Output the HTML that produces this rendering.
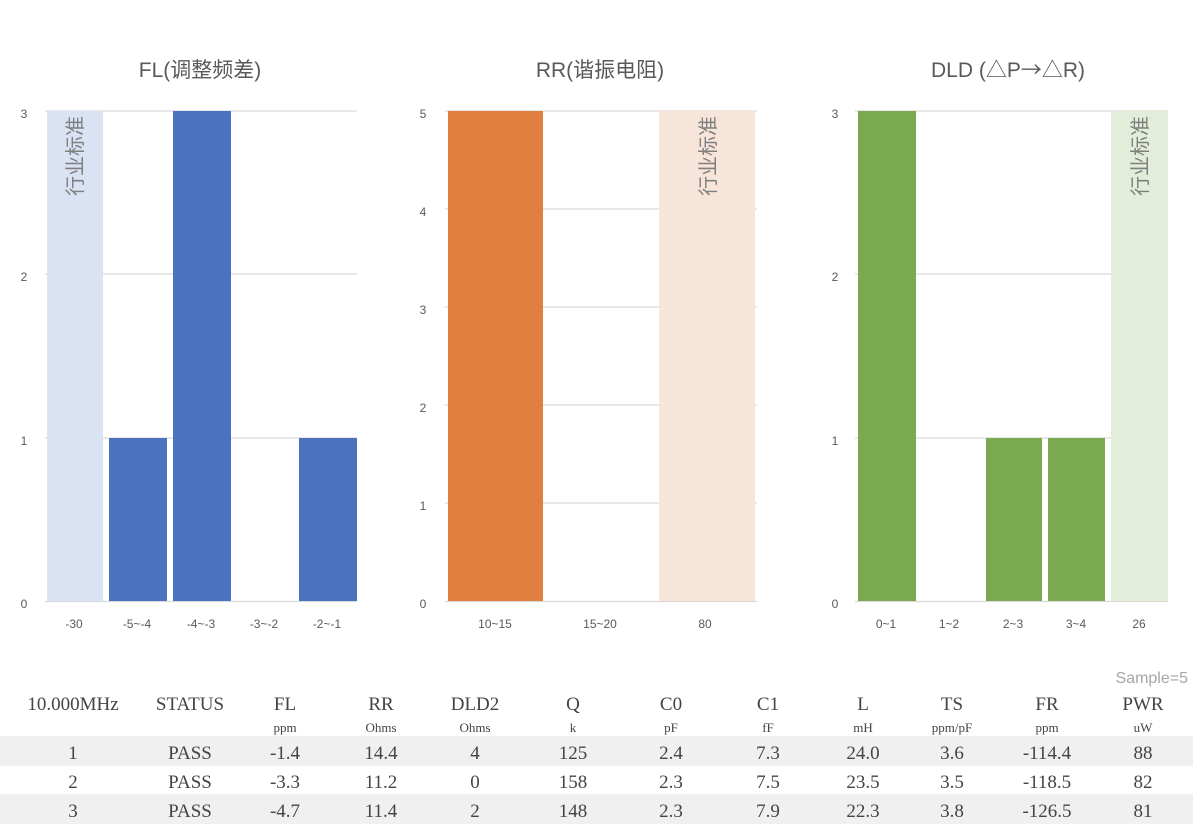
<!DOCTYPE html>
<html><head><meta charset="utf-8"><style>
body{margin:0;background:#fff;width:1200px;height:828px;overflow:hidden}
svg text{font-family:"Liberation Sans","Noto Sans CJK SC",sans-serif}
.t text{font-family:"Liberation Serif","Noto Serif CJK SC",serif;fill:#444}
</style></head><body>
<svg width="1200" height="828" xmlns="http://www.w3.org/2000/svg">
<g font-size="21" fill="#595959" text-anchor="middle">
<text x="200" y="77">FL(调整频差)</text>
<text x="600" y="77">RR(谐振电阻)</text>
<text x="1008" y="77">DLD (△P<tspan style="font-family:'Noto Sans CJK SC',sans-serif">→</tspan>△R)</text>
</g>
<g stroke="#d9d9d9" stroke-width="1.3">
<line x1="45" x2="357" y1="111" y2="111"/><line x1="45" x2="357" y1="274" y2="274"/><line x1="45" x2="357" y1="438" y2="438"/><line x1="45" x2="357" y1="601.5" y2="601.5"/>
<line x1="445" x2="757" y1="111" y2="111"/><line x1="445" x2="757" y1="209" y2="209"/><line x1="445" x2="757" y1="307" y2="307"/><line x1="445" x2="757" y1="405" y2="405"/><line x1="445" x2="757" y1="503" y2="503"/><line x1="445" x2="757" y1="601.5" y2="601.5"/>
<line x1="855" x2="1168" y1="111" y2="111"/><line x1="855" x2="1168" y1="274" y2="274"/><line x1="855" x2="1168" y1="438" y2="438"/><line x1="855" x2="1168" y1="601.5" y2="601.5"/>
</g>
<rect x="47" y="111" width="56" height="490" fill="#dae3f3"/>
<rect x="109" y="438" width="58" height="163" fill="#4a72be"/>
<rect x="173" y="111" width="58" height="490" fill="#4a72be"/>
<rect x="299" y="438" width="58" height="163" fill="#4a72be"/>
<rect x="448" y="111" width="95" height="490" fill="#e07f3f"/>
<rect x="659" y="111" width="96" height="490" fill="#f8e5d9"/>
<rect x="858" y="111" width="58" height="490" fill="#7ba950"/>
<rect x="986" y="438" width="56" height="163" fill="#7ba950"/>
<rect x="1048" y="438" width="57" height="163" fill="#7ba950"/>
<rect x="1111" y="111" width="57" height="490" fill="#e2eed9"/>
<g font-size="20" fill="#7f7f7f">
<text transform="translate(82,196) rotate(-90)">行业标准</text>
<text transform="translate(715,196) rotate(-90)">行业标准</text>
<text transform="translate(1147,196) rotate(-90)">行业标准</text>
</g>
<g font-size="12" fill="#595959" text-anchor="middle">
<text x="24" y="118">3</text><text x="24" y="281">2</text><text x="24" y="445">1</text><text x="24" y="608">0</text>
<text x="423" y="118">5</text><text x="423" y="216">4</text><text x="423" y="314">3</text><text x="423" y="412">2</text><text x="423" y="510">1</text><text x="423" y="608">0</text>
<text x="835" y="118">3</text><text x="835" y="281">2</text><text x="835" y="445">1</text><text x="835" y="608">0</text>
<text x="74" y="628">-30</text><text x="137" y="628">-5~-4</text><text x="201" y="628">-4~-3</text><text x="264" y="628">-3~-2</text><text x="327" y="628">-2~-1</text>
<text x="495" y="628">10~15</text><text x="600" y="628">15~20</text><text x="705" y="628">80</text>
<text x="886" y="628">0~1</text><text x="949" y="628">1~2</text><text x="1013" y="628">2~3</text><text x="1076" y="628">3~4</text><text x="1139" y="628">26</text>
</g>
<text x="1188" y="683" font-size="16" fill="#a6a6a6" text-anchor="end">Sample=5</text>
<rect x="0" y="736" width="1193" height="30" fill="#f0f0f0"/>
<rect x="0" y="794" width="1193" height="30" fill="#f0f0f0"/>
<g class="t" text-anchor="middle">
<g font-size="19">
<text x="73" y="710">10.000MHz</text><text x="190" y="710">STATUS</text><text x="285" y="710">FL</text><text x="381" y="710">RR</text><text x="475" y="710">DLD2</text><text x="573" y="710">Q</text><text x="671" y="710">C0</text><text x="768" y="710">C1</text><text x="863" y="710">L</text><text x="952" y="710">TS</text><text x="1047" y="710">FR</text><text x="1143" y="710">PWR</text>
</g>
<g font-size="13">
<text x="285" y="732">ppm</text><text x="381" y="732">Ohms</text><text x="475" y="732">Ohms</text><text x="573" y="732">k</text><text x="671" y="732">pF</text><text x="768" y="732">fF</text><text x="863" y="732">mH</text><text x="952" y="732">ppm/pF</text><text x="1047" y="732">ppm</text><text x="1143" y="732">uW</text>
</g>
<g font-size="19">
<text x="73" y="759">1</text><text x="190" y="759">PASS</text><text x="285" y="759">-1.4</text><text x="381" y="759">14.4</text><text x="475" y="759">4</text><text x="573" y="759">125</text><text x="671" y="759">2.4</text><text x="768" y="759">7.3</text><text x="863" y="759">24.0</text><text x="952" y="759">3.6</text><text x="1047" y="759">-114.4</text><text x="1143" y="759">88</text>
<text x="73" y="788">2</text><text x="190" y="788">PASS</text><text x="285" y="788">-3.3</text><text x="381" y="788">11.2</text><text x="475" y="788">0</text><text x="573" y="788">158</text><text x="671" y="788">2.3</text><text x="768" y="788">7.5</text><text x="863" y="788">23.5</text><text x="952" y="788">3.5</text><text x="1047" y="788">-118.5</text><text x="1143" y="788">82</text>
<text x="73" y="817">3</text><text x="190" y="817">PASS</text><text x="285" y="817">-4.7</text><text x="381" y="817">11.4</text><text x="475" y="817">2</text><text x="573" y="817">148</text><text x="671" y="817">2.3</text><text x="768" y="817">7.9</text><text x="863" y="817">22.3</text><text x="952" y="817">3.8</text><text x="1047" y="817">-126.5</text><text x="1143" y="817">81</text>
</g>
</g>
</svg>
</body></html>
